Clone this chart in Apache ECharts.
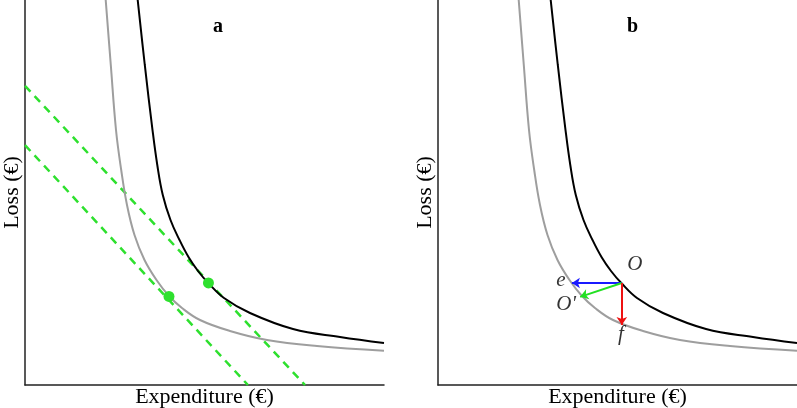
<!DOCTYPE html>
<html>
<head>
<meta charset="UTF-8">
<title>Loss vs expenditure</title>
<style>
    html, body { margin: 0; padding: 0; background: #fff; }
    #chartArea { width: 797px; height: 408px; }
</style>
</head>
<body>
<div id="chartArea"></div>
<script src="https://cdn.jsdelivr.net/npm/echarts@6/dist/echarts.min.js"></script>
<script>
// curves (x = expenditure, y = loss, 0..100 units)
var upperCurve = [[31.39,100],[33.37,83.12],[35.52,66.23],[36.85,57.14],[38.38,49.35],[40.53,42.86],
    [43.04,37.66],[45.54,33.25],[48.19,29.61],[51.06,26.49],[55.43,22.60],[62.67,18.70],[74.65,14.55],
    [87.74,12.47],[100,10.91]];
var lowerCurve = [[22.48,100],[23.90,83.12],[25.35,66.23],[26.80,55.84],[28.41,46.75],[30.50,38.96],
    [33.29,32.47],[36.63,27.27],[40.11,23.12],[43.73,20.0],[48.75,16.88],[57.10,14.03],[67.41,11.69],
    [81.34,10.13],[100,8.91]];
// iso-cost lines in panel a
var costLineHigh = [[0,77.7],[78.0,0]];
var costLineLow = [[0,62.3],[62.1,0]];
var tangentPoints = [[51.1,26.5],[40.1,23.0]];
// panel b: optimum and the three moves
var optimum = [51.2,26.5];
var moveE = [37.3,26.5];
var moveO2 = [39.6,22.9];
var moveF = [51.2,15.6];

var serif = 'Liberation Serif';
var green = '#2ee02e';

function axisX(gridIndex) {
    return {
        gridIndex: gridIndex, type: 'value', min: 0, max: 100,
        name: 'Expenditure (\u20ac)', nameLocation: 'middle', nameGap: 1,
        nameTextStyle: { fontFamily: serif, fontSize: 22, color: '#000' },
        axisLine: { show: true, lineStyle: { color: '#222', width: 1.5 } },
        axisTick: { show: false }, axisLabel: { show: false }, splitLine: { show: false }
    };
}
function axisY(gridIndex) {
    return {
        gridIndex: gridIndex, type: 'value', min: 0, max: 100,
        name: 'Loss (\u20ac)', nameLocation: 'middle', nameGap: 2,
        nameTextStyle: { fontFamily: serif, fontSize: 22, color: '#000' },
        axisLine: { show: true, lineStyle: { color: '#222', width: 1.5 } },
        axisTick: { show: false }, axisLabel: { show: false }, splitLine: { show: false }
    };
}
function curve(idx, data, color, width) {
    return {
        type: 'line', xAxisIndex: idx, yAxisIndex: idx, data: data,
        smooth: 0.4, symbol: 'none', silent: true, z: 3,
        lineStyle: { color: color, width: width }
    };
}
function dashLine(data) {
    return {
        type: 'line', xAxisIndex: 0, yAxisIndex: 0, data: data, symbol: 'none', z: 2,
        lineStyle: { color: green, width: 2.5, type: [8, 6] }
    };
}
function arrow(to, color) {
    return {
        coords: [optimum, to],
        lineStyle: { color: color, width: 2, opacity: 1 }
    };
}
function tag(pos, text, ox, oy) {
    return {
        value: pos,
        label: { show: true, formatter: text, offset: [ox, oy] }
    };
}

var myChart = echarts.init(document.getElementById('chartArea'));
myChart.setOption({
    animation: false,
    title: [
        { text: 'a', left: 208, top: 12, textStyle: { fontFamily: serif, fontSize: 20, fontWeight: 'bold', color: '#000' } },
        { text: 'b', left: 622, top: 12, textStyle: { fontFamily: serif, fontSize: 20, fontWeight: 'bold', color: '#000' } }
    ],
    grid: [
        { left: 25, right: 413, top: 0, bottom: 23, outerBoundsMode: 'none', containLabel: false },
        { left: 438, right: 0, top: 0, bottom: 23, outerBoundsMode: 'none', containLabel: false }
    ],
    xAxis: [axisX(0), axisX(1)],
    yAxis: [axisY(0), axisY(1)],
    series: [
        dashLine(costLineHigh),
        dashLine(costLineLow),
        curve(0, upperCurve, '#000', 2),
        curve(0, lowerCurve, '#9e9e9e', 2),
        {
            type: 'scatter', xAxisIndex: 0, yAxisIndex: 0, data: tangentPoints,
            symbolSize: 11, itemStyle: { color: green, opacity: 1 }, z: 5
        },
        curve(1, upperCurve, '#000', 2),
        curve(1, lowerCurve, '#9e9e9e', 2),
        {
            type: 'lines', coordinateSystem: 'cartesian2d', xAxisIndex: 1, yAxisIndex: 1,
            symbol: ['none', 'arrow'], symbolSize: 8, z: 5,
            data: [arrow(moveE, '#1a1aff'), arrow(moveO2, '#22e022'), arrow(moveF, '#ee1111')]
        },
        {
            type: 'scatter', xAxisIndex: 1, yAxisIndex: 1, symbolSize: 0, z: 6,
            label: { fontFamily: serif, fontSize: 21, fontStyle: 'italic', color: '#000' },
            data: [
                tag(optimum, 'O', 13, -18),
                tag(moveE, 'e', -11, -2),
                tag(moveO2, "O'", -14, 8),
                tag(moveF, 'f', -1, 10)
            ]
        }
    ]
});
</script>
</body>
</html>
